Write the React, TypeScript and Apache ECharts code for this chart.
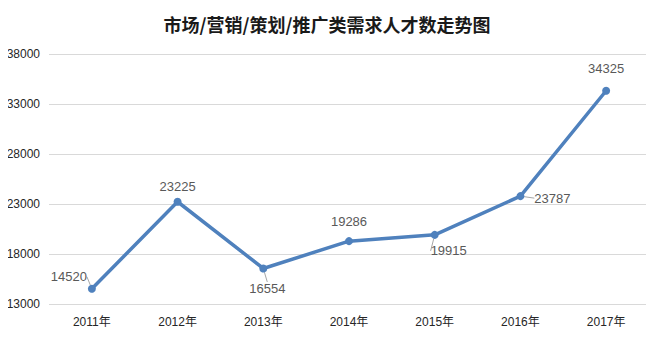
import React, { useEffect, useRef } from "react";
import * as echarts from "echarts";

const titleText = "市场/营销/策划/推广类需求人才数走势图";
const categories = ["2011年", "2012年", "2013年", "2014年", "2015年", "2016年", "2017年"];
const values = [14520, 23225, 16554, 19286, 19915, 23787, 34325];
// label offsets relative to each point (dx, dy) and whether a leader line shows
const labelDx = [-23, 0, 4, 0, 14, 32, 0];
const labelDy = [-12, -15, 20, -20, 16, 2, -22];
const leader = [true, false, true, false, true, true, false];

const FONT = "'Liberation Sans', 'Noto Sans CJK SC', sans-serif";

export default function App() {
  const ref = useRef<HTMLDivElement>(null);
  useEffect(() => {
    if (!ref.current) return;
    const chart = echarts.init(ref.current, null, { renderer: "svg" });
    chart.setOption({
      animation: false,
      backgroundColor: "#ffffff",
      title: {
        text: titleText,
        left: "center",
        top: 10,
        textStyle: { fontFamily: "'Noto Sans CJK SC', sans-serif", fontSize: 18, fontWeight: "bold", color: "#1a1a1a" },
      },
      grid: { left: 49, right: 5, top: 54, bottom: 36 },
      xAxis: {
        type: "category",
        data: categories,
        boundaryGap: true,
        axisLine: { show: false },
        axisTick: { show: false },
        axisLabel: { fontFamily: FONT, fontSize: 12, color: "#262626", margin: 12 },
      },
      yAxis: {
        type: "value",
        min: 13000,
        max: 38000,
        interval: 5000,
        axisLine: { show: false },
        axisTick: { show: false },
        splitLine: { lineStyle: { color: "#d9d9d9", width: 1 } },
        axisLabel: {
          fontFamily: FONT,
          fontSize: 12,
          color: "#262626",
          margin: 9,
          formatter: (v: number) => String(v),
        },
      },
      series: [
        {
          type: "line",
          data: values.map((v, i) => ({
            value: v,
            labelLine: { show: leader[i] },
          })),
          symbol: "circle",
          symbolSize: 8,
          lineStyle: { color: "#4f81bd", width: 3.5 },
          itemStyle: { color: "#4f81bd" },
          label: {
            show: true,
            position: "inside",
            fontFamily: FONT,
            fontSize: 13,
            color: "#595959",
          },
          labelLine: {
            show: true,
            lineStyle: { color: "#a6a6a6", width: 1 },
          },
          labelLayout: (params: any) => ({
            dx: labelDx[params.dataIndex],
            dy: labelDy[params.dataIndex],
          }),
        },
      ],
    });
    return () => chart.dispose();
  }, []);
  return <div ref={ref} style={{ width: 654, height: 340, marginLeft: -8, marginTop: -8 }} />;
}
